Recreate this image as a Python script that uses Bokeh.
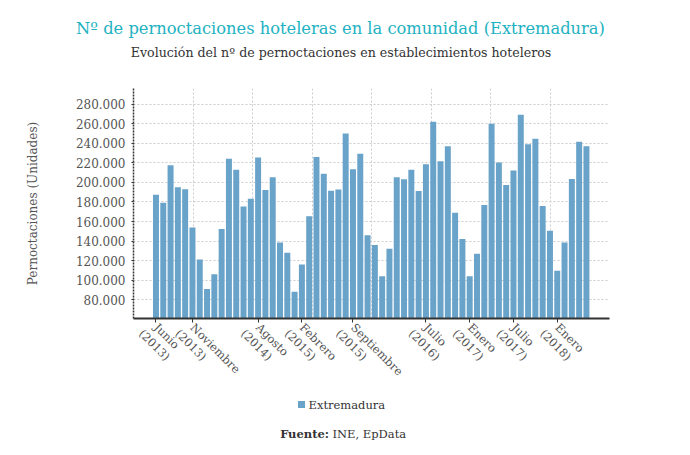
import math
from bokeh.plotting import figure
from bokeh.layouts import column
from bokeh.models import Range1d, FixedTicker, ColumnDataSource, LinearAxis
from bokeh.core.properties import value
from bokeh.embed import file_html
from bokeh.resources import INLINE

# ---- data (Jun 2013 .. May 2018), pernoctaciones
values = [187500, 179300, 217700, 195100, 193000, 154000, 121100,
          91000, 106000, 152300, 224200, 213000, 175500, 183400, 225500, 192300, 205300, 138600, 128000,
          88000, 116000, 165300, 226000, 209000, 191600, 192700, 250000, 213600, 229300, 146000, 136000,
          104000, 132000, 205300, 203300, 213000, 191300, 218700, 262200, 221800, 237000, 169000, 142000,
          104000, 127000, 177000, 260000, 220400, 197500, 212200, 269400, 239000, 244700, 176000, 150500,
          109500, 138600, 203600, 241600, 237000]
month_index = list(range(len(values)))
x_tick_index = [0, 5, 14, 20, 27, 37, 43, 49, 55]
x_tick_months = ["Junio", "Noviembre", "Agosto", "Febrero", "Septiembre", "Julio", "Enero", "Julio", "Enero"]
x_tick_years = ["(2013)", "(2013)", "(2014)", "(2015)", "(2015)", "(2016)", "(2017)", "(2017)", "(2018)"]
y_ticks = [80000, 100000, 120000, 140000, 160000, 180000, 200000, 220000, 240000, 260000, 280000]
y_tick_labels = [f"{v:,}".replace(",", ".") for v in y_ticks]
series_name = "Extremadura"
title_text = "Nº de pernoctaciones hoteleras en la comunidad (Extremadura)"
subtitle_text = "Evolución del nº de pernoctaciones en establecimientos hoteleros"
source_bold = "Fuente:"
source_text = "INE, EpData"

FONT = "DejaVu Serif"
BAR = "#6aa3c9"
W = 680


def no_align(f):
    try:
        f.frame_align = False
    except Exception:
        pass
    return f


def blank(h):
    f = figure(width=W, height=h, output_backend="svg", toolbar_location=None,
               x_range=Range1d(0, W), y_range=Range1d(0, h),
               min_border=0, min_border_left=0, min_border_right=0,
               min_border_top=0, min_border_bottom=0)
    f.axis.visible = False
    f.grid.visible = False
    f.outline_line_color = None
    f.background_fill_color = "white"
    f.border_fill_color = "white"
    return no_align(f)


# ---- header
TOP_H = 88
top = blank(TOP_H)
top.text(x=[340], y=[TOP_H - 28], text=[title_text], text_font=value(FONT),
         text_font_size="16.3px", text_color="#22b2c2", text_align="center", text_baseline="middle")
top.text(x=[340.5], y=[TOP_H - 52], text=[subtitle_text], text_font=value(FONT),
         text_font_size="12.6px", text_color="#333333", text_align="center", text_baseline="middle")

# ---- main chart
MAIN_H = 306
x0, x1 = -3.08, 62.16
FRAME_L, FRAME_R = 133, 609
p = figure(width=W, height=MAIN_H, output_backend="svg", toolbar_location=None,
           x_range=Range1d(x0, x1), y_range=Range1d(60700, 296200),
           min_border_left=FRAME_L, min_border_right=W - FRAME_R, min_border_top=0,
           min_border_bottom=76)
no_align(p)
p.outline_line_color = None
p.background_fill_color = "white"
p.border_fill_color = "white"

src = ColumnDataSource(dict(x=month_index, top=values))
p.vbar(x="x", top="top", bottom=0, width=0.82, source=src, fill_color=BAR, line_color=None)

label_style = dict(major_label_text_font=FONT, major_label_text_font_size="11.5px",
                   major_label_text_color="#555555", major_label_orientation=-math.pi / 4)

xa = p.xaxis[0]
xa.ticker = FixedTicker(ticks=x_tick_index)
xa.major_label_overrides = {t: l for t, l in zip(x_tick_index, x_tick_months)}
xa.axis_line_color = "#333333"
xa.axis_line_width = 2
xa.major_tick_line_color = "#333333"
xa.major_tick_in = 0
xa.major_tick_out = 4
xa.minor_tick_line_color = None
xa.major_label_standoff = 3
for k, v in label_style.items():
    setattr(xa, k, v)

# second line of the tick labels (years): same ticks, range shifted so the line starts down-left
shift = 15.0 * (x1 - x0) / (FRAME_R - FRAME_L)
p.extra_x_ranges = {"years": Range1d(x0 + shift, x1 + shift)}
xb = LinearAxis(x_range_name="years", ticker=FixedTicker(ticks=x_tick_index),
                major_label_overrides={t: l for t, l in zip(x_tick_index, x_tick_years)},
                axis_line_color=None, major_tick_line_color=None, minor_tick_line_color=None,
                major_tick_in=0, major_tick_out=0, major_label_standoff=-55, **label_style)
p.add_layout(xb, "below")

p.yaxis.ticker = FixedTicker(ticks=y_ticks)
p.yaxis.major_label_overrides = {t: l for t, l in zip(y_ticks, y_tick_labels)}
p.yaxis.axis_line_color = "#333333"
p.yaxis.axis_line_dash = "2 1"
p.yaxis.axis_line_width = 1.5
p.yaxis.major_tick_line_color = "#333333"
p.yaxis.major_tick_in = 0
p.yaxis.major_tick_out = 2
p.yaxis.minor_tick_line_color = None
p.yaxis.major_label_text_font = FONT
p.yaxis.major_label_text_font_size = "12px"
p.yaxis.major_label_text_color = "#555555"
p.yaxis.major_label_standoff = 6
p.yaxis.axis_label = "Pernoctaciones (Unidades)"
p.yaxis.axis_label_text_font = FONT
p.yaxis.axis_label_text_font_style = "normal"
p.yaxis.axis_label_text_font_size = "12px"
p.yaxis.axis_label_text_color = "#555555"
p.yaxis.axis_label_standoff = 33

p.ygrid.grid_line_color = "#cccccc"
p.ygrid.grid_line_dash = "2 2"
p.xgrid.ticker = FixedTicker(ticks=[x0 + k * (x1 - x0) / 8 for k in range(1, 9)])
p.xgrid.grid_line_color = "#cccccc"
p.xgrid.grid_line_dash = "2 2"

# ---- footer: legend + source
BOT_H = 450 - TOP_H - MAIN_H
bot = blank(BOT_H)
PAGE_BOTTOM = TOP_H + MAIN_H + BOT_H
bot.scatter(x=[301], y=[PAGE_BOTTOM - 404], marker="square", size=7, fill_color=BAR, line_color=None)
bot.text(x=[308], y=[PAGE_BOTTOM - 404], text=[series_name], text_font=value(FONT),
         text_font_size="11.5px", text_color="#333333", text_align="left", text_baseline="middle")
bot.text(x=[328.5], y=[PAGE_BOTTOM - 433], text=[source_bold], text_font=value(FONT),
         text_font_size="11.5px", text_font_style="bold", text_color="#333333",
         text_align="right", text_baseline="middle")
bot.text(x=[332], y=[PAGE_BOTTOM - 433], text=[source_text], text_font=value(FONT),
         text_font_size="11.5px", text_color="#333333", text_align="left", text_baseline="middle")

layout = column(top, p, bot, spacing=0)
open("out.html", "w").write(file_html(layout, INLINE))
